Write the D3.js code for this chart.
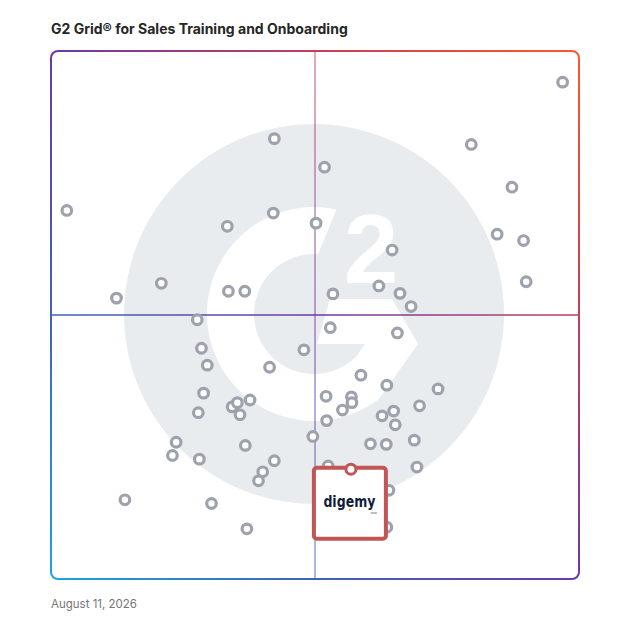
<!DOCTYPE html>
<html lang="en">
  <head>
    <meta charset="UTF-8" />
    <title>G2 Grid for Sales Training and Onboarding</title>
    <script src="https://d3js.org/d3.v7.min.js"></script>
    <style>
      body {
        margin: 0;
        background: #fff;
      }
      svg {
        display: block;
      }
    </style>
  </head>
  <body>
    <div id="chart"></div>
    <script>
      // satisfaction (x) and market presence (y), 0-100
      const satisfaction = [
        96.9, 79.6, 42.3, 51.8, 87.3, 3.0, 42.1, 33.4, 50.2, 84.5, 89.5, 64.6, 90.0,
        20.9, 12.4, 33.6, 36.7, 53.4, 62.1, 66.1, 68.2, 27.7, 52.9, 65.6, 28.5, 47.9,
        29.6, 41.4, 58.7, 63.6, 73.3, 28.9, 52.1, 56.9, 57.0, 55.2, 34.3, 35.3, 37.7,
        35.8, 27.9, 62.7, 64.9, 69.8, 65.2, 52.2, 49.6, 23.7, 23.0, 36.8, 60.5, 63.5,
        68.8, 28.1, 42.3, 40.1, 39.3, 69.3, 52.5, 64.0, 63.6, 14.0, 30.4, 37.1,
      ];
      const marketPresence = [
        94.1, 82.3, 83.4, 78.0, 74.2, 69.8, 69.3, 66.8, 67.4, 65.3, 64.1, 62.3, 56.3,
        56.0, 53.2, 54.5, 54.5, 54.0, 55.5, 54.1, 51.6, 49.1, 47.6, 46.6, 43.7, 43.4,
        40.5, 40.1, 38.6, 36.7, 36.0, 35.2, 34.6, 34.5, 33.4, 32.0, 32.6, 33.4, 33.9,
        31.1, 31.5, 30.9, 31.8, 32.8, 29.2, 30.0, 27.0, 25.9, 23.4, 25.3, 25.6, 25.5,
        26.3, 22.7, 22.4, 20.3, 18.6, 21.2, 21.4, 16.8, 9.8, 15.0, 14.3, 9.5,
      ];
      const highlightName = "digemy";
      const highlightPoint = [56.8, 20.8];

      const titleText = "G2 Grid® for Sales Training and Onboarding";
      const dateText = "August 11, 2026";

      const W = 628;
      const H = 628;
      const box = {left: 51, top: 51, right: 579, bottom: 579};

      const x = d3.scaleLinear().domain([0, 100]).range([box.left, box.right]);
      const y = d3.scaleLinear().domain([0, 100]).range([box.bottom, box.top]);

      const svg = d3
        .select("#chart")
        .append("svg")
        .attr("width", W)
        .attr("height", H);

      const defs = svg.append("defs");

      defs
        .append("linearGradient")
        .attr("id", "edge")
        .attr("gradientUnits", "userSpaceOnUse")
        .attr("x1", box.left)
        .attr("y1", box.bottom)
        .attr("x2", box.right)
        .attr("y2", box.top)
        .selectAll("stop")
        .data([
          {o: "0%", c: "#1ea4dc"},
          {o: "25%", c: "#3f63ba"},
          {o: "50%", c: "#6a3aa3"},
          {o: "75%", c: "#c13f5c"},
          {o: "100%", c: "#ff5a28"},
        ])
        .join("stop")
        .attr("offset", (d) => d.o)
        .attr("stop-color", (d) => d.c);

      defs
        .append("clipPath")
        .attr("id", "plotClip")
        .append("rect")
        .attr("x", box.left)
        .attr("y", box.top)
        .attr("width", box.right - box.left)
        .attr("height", box.bottom - box.top);

      // title
      svg
        .append("text")
        .attr("x", box.left)
        .attr("y", 34)
        .attr("font-family", "Inter, 'Open Sans', sans-serif")
        .attr("font-size", "14px")
        .attr("font-weight", 700)
        .attr("fill", "#262626")
        .text(titleText);

      // G2 watermark in the middle
      const cx = x(50) - 1;
      const cy = y(50) - 1;
      const logo = svg.append("g").attr("clip-path", "url(#plotClip)");

      logo
        .append("circle")
        .attr("cx", cx)
        .attr("cy", cy)
        .attr("r", 190)
        .attr("fill", "#e9ecef");

      const ro = 107;
      const ri = 60;
      const g = d3.path();
      g.moveTo(cx + ro * Math.cos(-1.359), cy + ro * Math.sin(-1.359));
      g.arc(cx, cy, ro, -1.359, 0.916, true);
      g.lineTo(cx + 104, cy + 30);
      g.lineTo(cx + 78, cy - 15);
      g.lineTo(cx + 16, cy - 15);
      g.lineTo(cx + 3, cy + 30);
      g.lineTo(cx + 51, cy + 30);
      g.lineTo(cx + ri * Math.cos(0.775), cy + ri * Math.sin(0.775));
      g.arc(cx, cy, ri, 0.775, -1.504, false);
      g.closePath();

      logo.append("path").attr("d", g.toString()).attr("fill", "#fff");

      logo
        .append("text")
        .attr("x", cx + 57)
        .attr("y", cy - 31)
        .attr("text-anchor", "middle")
        .attr("font-family", "'Liberation Sans', Arial, sans-serif")
        .attr("font-weight", 700)
        .attr("font-size", "98px")
        .attr("fill", "#fff")
        .text("2");

      // quadrant lines
      svg
        .append("line")
        .attr("x1", box.left)
        .attr("x2", box.right)
        .attr("y1", y(50))
        .attr("y2", y(50))
        .attr("stroke", "url(#edge)")
        .attr("stroke-width", 1.5);

      svg
        .append("line")
        .attr("x1", x(50))
        .attr("x2", x(50))
        .attr("y1", box.top)
        .attr("y2", box.bottom)
        .attr("stroke", "url(#edge)")
        .attr("stroke-opacity", 0.6)
        .attr("stroke-width", 1.5);

      // outer frame
      svg
        .append("rect")
        .attr("x", box.left)
        .attr("y", box.top)
        .attr("width", box.right - box.left)
        .attr("height", box.bottom - box.top)
        .attr("rx", 7)
        .attr("fill", "none")
        .attr("stroke", "url(#edge)")
        .attr("stroke-width", 2);

      // products
      svg
        .append("g")
        .selectAll("circle")
        .data(d3.range(satisfaction.length))
        .join("circle")
        .attr("cx", (i) => x(satisfaction[i]))
        .attr("cy", (i) => y(marketPresence[i]))
        .attr("r", 4.8)
        .attr("fill", "#fff")
        .attr("stroke", "#9ea2ad")
        .attr("stroke-width", 3.2);

      // highlighted product card
      const hx = x(highlightPoint[0]);
      const hy = y(highlightPoint[1]);
      const card = svg.append("g");

      card
        .append("rect")
        .attr("x", hx - 37)
        .attr("y", hy - 1.5)
        .attr("width", 72)
        .attr("height", 71)
        .attr("rx", 3)
        .attr("fill", "#fff")
        .attr("stroke", "#c25556")
        .attr("stroke-width", 4);

      card
        .append("text")
        .attr("x", hx - 1.5)
        .attr("y", hy + 37.5)
        .attr("text-anchor", "middle")
        .attr("font-family", "'DejaVu Sans', sans-serif")
        .attr("font-size", "15px")
        .attr("font-weight", 700)
        .attr("textLength", 52)
        .attr("lengthAdjust", "spacingAndGlyphs")
        .attr("fill", "#0f1e3c")
        .text(highlightName);

      card
        .append("rect")
        .attr("x", hx - 2)
        .attr("y", hy + 39.5)
        .attr("width", 2)
        .attr("height", 2)
        .attr("fill", "#f5a623");

      card
        .append("text")
        .attr("x", hx + 26)
        .attr("y", hy + 45)
        .attr("text-anchor", "end")
        .attr("font-family", "'DejaVu Sans', sans-serif")
        .attr("font-size", "3px")
        .attr("fill", "#0f1e3c")
        .text(".com");

      card
        .append("circle")
        .attr("cx", hx)
        .attr("cy", hy)
        .attr("r", 5)
        .attr("fill", "#fff")
        .attr("stroke", "#c25556")
        .attr("stroke-width", 3);

      // date
      svg
        .append("text")
        .attr("x", box.left)
        .attr("y", 608)
        .attr("font-family", "Inter, 'Open Sans', sans-serif")
        .attr("font-size", "11.5px")
        .attr("fill", "#757575")
        .text(dateText);
    </script>
  </body>
</html>
